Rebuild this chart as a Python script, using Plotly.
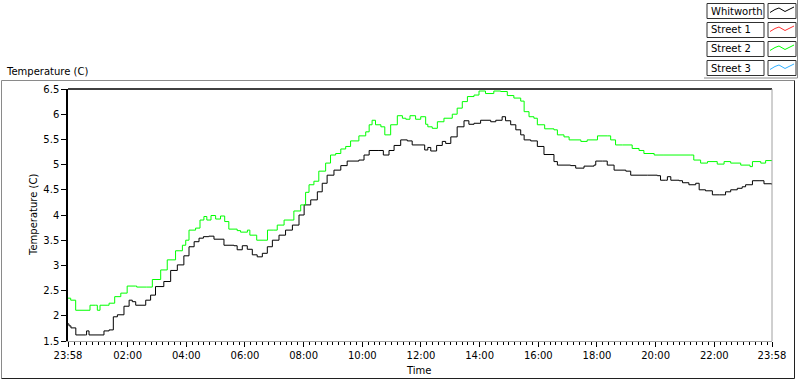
import plotly.graph_objects as go

# ---------------- data (minutes elapsed since 23:58, temperature in C) ----------------
whitworth_min = [0, 2, 6, 16, 36, 38, 43, 69.5, 73.6, 84, 92.7, 101, 114.5, 125, 131.5, 138.5, 153.4,
                 159, 169, 179, 196, 210, 223.6, 237, 247.5, 258, 268, 277, 288, 298.6, 319, 339.5,
                 346, 356.5, 366.7, 377, 387, 397.5, 407.7, 418, 431.6, 445, 459, 472.5, 483, 496.5,
                 510, 520, 530, 544, 558, 571, 595, 605.5, 616, 636, 645, 656.6, 667, 680.5, 694, 704,
                 718, 729.6, 736, 742, 754, 765.6, 772.5, 783, 796, 810, 820, 830.5, 844, 864.6, 875,
                 888, 895, 905.5, 916, 926, 933, 946.5, 960, 973.6, 994, 1001, 1028, 1038.5, 1055.5,
                 1076, 1079.5, 1093, 1103, 1117, 1141, 1151, 1185, 1205.5, 1212, 1222.6, 1226, 1233,
                 1250, 1257, 1270, 1284, 1291, 1304, 1318, 1332, 1345, 1355.5, 1369, 1379, 1386, 1400,
                 1413.5, 1423.6, 1440]
whitworth_val = [1.84, 1.80, 1.76, 1.62, 1.62, 1.70, 1.62, 1.62, 1.70, 1.72, 1.98, 2.02, 2.19, 2.31, 2.28,
                 2.21, 2.21, 2.31, 2.41, 2.58, 2.68, 2.90, 3.01, 3.19, 3.37, 3.47, 3.54, 3.57, 3.58, 3.52,
                 3.40, 3.39, 3.31, 3.39, 3.32, 3.21, 3.17, 3.24, 3.37, 3.50, 3.60, 3.70, 3.80, 4.00, 4.20,
                 4.30, 4.46, 4.63, 4.79, 4.89, 4.98, 5.07, 5.09, 5.19, 5.28, 5.28, 5.19, 5.28, 5.38, 5.49,
                 5.47, 5.39, 5.39, 5.29, 5.34, 5.27, 5.38, 5.46, 5.42, 5.55, 5.75, 5.87, 5.80, 5.82, 5.88,
                 5.85, 5.88, 5.95, 5.87, 5.79, 5.69, 5.59, 5.49, 5.47, 5.36, 5.20, 5.06, 4.99, 4.98, 4.93,
                 4.97, 4.99, 5.07, 5.07, 4.99, 4.89, 4.87, 4.79, 4.79, 4.78, 4.69, 4.69, 4.76, 4.69, 4.68,
                 4.64, 4.60, 4.63, 4.50, 4.48, 4.40, 4.40, 4.46, 4.50, 4.53, 4.56, 4.60, 4.68, 4.68, 4.62,
                 4.60]

street2_min = [0, 5.5, 15.7, 43, 45, 56.6, 60, 65.5, 80, 84, 95.5, 108, 121, 138.5, 140.5, 161, 172.5,
               189.6, 203, 220, 229, 234, 240.8, 247.5, 261, 270, 278, 284, 292.5, 302, 312, 320.5, 329,
               346, 353, 367, 372, 386, 399, 408, 421, 428, 442, 462, 476, 486, 493, 503, 513, 527, 537,
               547.5, 558, 568, 578, 595, 609, 616, 622, 629, 640, 648, 660, 673.6, 684, 691, 699.5, 711,
               721.5, 731.6, 736, 745, 755.5, 769, 786, 796, 806.5, 817, 830.5, 840.7, 854, 871, 885,
               898.6, 912, 926, 933, 943, 953, 960, 975, 994, 1001, 1014.5, 1025, 1049, 1062, 1083, 1103,
               1110, 1120, 1134, 1154, 1168, 1178, 1199, 1219, 1274, 1280, 1294, 1308, 1328, 1342, 1355.5,
               1376, 1395, 1400, 1417, 1427, 1440]
street2_val = [2.35, 2.31, 2.11, 2.11, 2.21, 2.21, 2.11, 2.21, 2.21, 2.25, 2.38, 2.45, 2.59, 2.59, 2.57,
               2.57, 2.72, 2.91, 3.11, 3.29, 3.29, 3.40, 3.50, 3.70, 3.74, 3.90, 3.97, 3.90, 3.99, 3.92,
               3.98, 3.87, 3.72, 3.69, 3.66, 3.70, 3.60, 3.50, 3.50, 3.70, 3.70, 3.80, 3.90, 4.08, 4.20,
               4.45, 4.60, 4.67, 4.87, 5.03, 5.19, 5.22, 5.31, 5.36, 5.47, 5.57, 5.65, 5.79, 5.88, 5.79,
               5.75, 5.59, 5.79, 5.97, 5.92, 5.90, 5.97, 5.90, 5.95, 5.80, 5.75, 5.72, 5.85, 5.92, 6.00,
               6.12, 6.25, 6.35, 6.38, 6.46, 6.41, 6.46, 6.45, 6.37, 6.32, 6.26, 6.05, 5.95, 5.92, 5.79,
               5.71, 5.69, 5.59, 5.55, 5.49, 5.46, 5.49, 5.57, 5.57, 5.49, 5.39, 5.39, 5.32, 5.28, 5.22,
               5.19, 5.19, 5.19, 5.09, 5.03, 5.06, 5.01, 5.06, 5.03, 4.99, 4.96, 5.06, 5.03, 5.08, 5.08]

street1_min, street1_val = [], []
street3_min, street3_val = [], []

series_names = ["Whitworth", "Street 1", "Street 2", "Street 3"]
series_colors = ["#000000", "#ff3030", "#00ff00", "#30b0ff"]

tick_minutes = [0, 122, 242, 362, 482, 602, 722, 842, 962, 1082, 1202, 1322, 1440]
tick_labels = ["23:58", "02:00", "04:00", "06:00", "08:00", "10:00", "12:00", "14:00",
               "16:00", "18:00", "20:00", "22:00", "23:58"]
y_ticks = [1.5, 2, 2.5, 3, 3.5, 4, 4.5, 5, 5.5, 6, 6.5]

# ---------------- layout helpers (pixel -> paper) ----------------
L, R, T, B = 68, 772, 89, 341
W, H = R - L, B - T


def px(x):
    return (x - L) / W


def py(y):
    return (B - y) / H


FONT = "DejaVu Sans"
FS = 10

fig = go.Figure()
all_series = [(whitworth_min, whitworth_val), (street1_min, street1_val),
              (street2_min, street2_val), (street3_min, street3_val)]
for (xs, ys), name, col in zip(all_series, series_names, series_colors):
    fig.add_trace(go.Scatter(x=xs, y=ys, mode="lines", name=name, line=dict(color=col, width=1, shape="hv"),
                             showlegend=False))

shapes = []
# outer frame of the graph
shapes += [
    dict(type="line", xref="paper", yref="paper", x0=px(1.5), x1=px(1.5), y0=py(80.5), y1=py(378.5),
         line=dict(color="#8a8a8a", width=1)),
    dict(type="line", xref="paper", yref="paper", x0=px(1.5), x1=px(794.5), y0=py(80.5), y1=py(80.5),
         line=dict(color="#8a8a8a", width=1)),
    dict(type="line", xref="paper", yref="paper", x0=px(794.5), x1=px(794.5), y0=py(80.5), y1=py(378.5),
         line=dict(color="#202020", width=1)),
    dict(type="line", xref="paper", yref="paper", x0=px(1.5), x1=px(794.5), y0=py(378.5), y1=py(378.5),
         line=dict(color="#202020", width=1)),
]
# plot-area border: top black, right gray
shapes += [
    dict(type="line", xref="paper", yref="paper", x0=0, x1=1, y0=1, y1=1, line=dict(color="black", width=1.5)),
    dict(type="line", xref="paper", yref="paper", x0=1, x1=1, y0=0, y1=1, line=dict(color="#a0a0a0", width=1)),
]

annotations = [
    dict(text="Temperature (C)", xref="paper", yref="paper", x=px(4), y=py(71), xanchor="left",
         yanchor="middle", showarrow=False, font=dict(family=FONT, size=FS, color="black")),
    dict(text="Temperature (C)", xref="paper", yref="paper", x=px(33), y=py(215), xanchor="center",
         yanchor="middle", textangle=-90, showarrow=False, font=dict(family=FONT, size=FS, color="black")),
    dict(text="Time", xref="paper", yref="paper", x=px(418), y=py(370), xanchor="center",
         yanchor="middle", showarrow=False, font=dict(family=FONT, size=FS, color="black")),
]

# custom LabVIEW style legend
row_top = [3.5, 22.5, 41.5, 60.5]
for name, col, top in zip(series_names, series_colors, row_top):
    bot = top + 15
    shapes.append(dict(type="rect", xref="paper", yref="paper", x0=px(707), x1=px(764), y0=py(bot), y1=py(top),
                       line=dict(color="#303030", width=1), fillcolor="white"))
    shapes.append(dict(type="rect", xref="paper", yref="paper", x0=px(768), x1=px(796), y0=py(bot), y1=py(top),
                       line=dict(color="#303030", width=1), fillcolor="white"))
    zz = [(770, top + 9), (775, top + 6), (779, top + 4.5), (785, top + 8), (789, top + 6), (794, top + 3.5)]
    path = "M " + " L ".join(f"{px(a):.5f},{py(b):.5f}" for a, b in zz)
    shapes.append(dict(type="path", xref="paper", yref="paper", path=path, line=dict(color=col, width=1)))
    annotations.append(dict(text=name, xref="paper", yref="paper", x=px(709), y=py(top + 7.5), xanchor="left",
                            yanchor="middle", showarrow=False, font=dict(family=FONT, size=FS, color="black")))
# legend shadow edges
shapes += [
    dict(type="line", xref="paper", yref="paper", x0=px(797.5), x1=px(797.5), y0=py(0), y1=py(78),
         line=dict(color="#8a8a8a", width=1)),
    dict(type="line", xref="paper", yref="paper", x0=px(704), x1=px(797.5), y0=py(78), y1=py(78),
         line=dict(color="#8a8a8a", width=1)),
]

fig.update_layout(
    width=800, height=380,
    margin=dict(l=L, r=800 - R, t=T, b=380 - B, autoexpand=False),
    paper_bgcolor="white", plot_bgcolor="white",
    font=dict(family=FONT, size=FS, color="black"),
    showlegend=False,
    shapes=shapes, annotations=annotations,
    xaxis=dict(range=[0, 1440], tickmode="array", tickvals=tick_minutes, ticktext=tick_labels,
               showgrid=False, zeroline=False, showline=True, linecolor="#a0a0a0", linewidth=1,
               ticks="outside", ticklen=5, tickcolor="black", tickwidth=1,
               minor=dict(ticks="outside", ticklen=3, tickcolor="black", tickwidth=1,
                          tickmode="linear", tick0=2, dtick=12, showgrid=False),
               tickfont=dict(family=FONT, size=FS)),
    yaxis=dict(range=[1.5, 6.5], tickmode="array", tickvals=y_ticks,
               ticktext=[f"{v:g}" for v in y_ticks],
               showgrid=False, zeroline=False, showline=True, linecolor="black", linewidth=1.5,
               ticks="outside", ticklen=5, tickcolor="black", tickwidth=1,
               tickfont=dict(family=FONT, size=FS)),
)

fig.write_html("out.html", config={"displayModeBar": False},
               post_script="document.body.style.margin='0';")
